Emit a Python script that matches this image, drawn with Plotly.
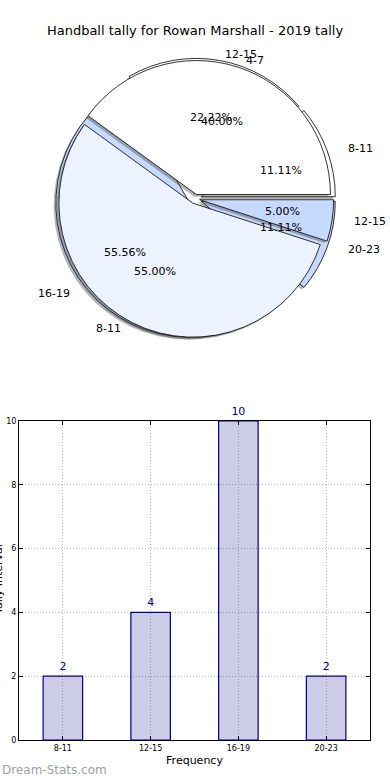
import math
import plotly.graph_objects as go

# ---------------- data ----------------
title_text = "Handball tally for Rowan Marshall - 2019 tally"

pie_a_labels = ["8-11", "12-15", "16-19", "20-23"]
pie_a_values = [2, 4, 10, 2]
pie_a_colors = ["#ffffff", "#ffffff", "#c6d9fe", "#c6d9fe"]

pie_b_labels = ["4-7", "8-11", "12-15"]
pie_b_values = [8, 11, 1]
pie_b_colors = ["#ffffff", "#ecf2fe", "#c6d9fe"]

bar_categories = ["8-11", "12-15", "16-19", "20-23"]
bar_values = [2, 4, 10, 2]
y_ticks = [0, 2, 4, 6, 8, 10]

x_title = "Frequency"
y_title = "Tally Interval"
watermark = "Dream-Stats.com"

# ---------------- geometry / style ----------------
W, H = 390, 780
CX, CY = 195, 199          # pie centre (px)
R = 134                    # pie radius (px)
RX, RY = 140, 128          # text placement radii (px)
PULL_A, PULL_B = 0.05, 0.035
FONT = "DejaVu Sans"


def pie_trace(values, labels, colors, pull, dx=0.0, dy=0.0, shadow=False):
    half = R * (1 + pull)
    dom_x = [(CX + dx - half) / W, (CX + dx + half) / W]
    dom_y = [1 - (CY + dy + half) / H, 1 - (CY + dy - half) / H]
    if shadow:
        marker = dict(colors=["rgba(70,70,70,0.4)"] * len(values), line=dict(width=0))
    else:
        marker = dict(colors=colors, line=dict(color="black", width=0.8))
    # first slice starts at 3 o'clock and slices run counter-clockwise (matplotlib style)
    rot = 90 - 360.0 * values[0] / sum(values)
    return go.Pie(
        values=values, labels=labels, sort=False, direction="counterclockwise",
        rotation=rot, pull=[pull] * len(values), textinfo="none", hoverinfo="label+percent",
        showlegend=False, marker=marker, domain=dict(x=dom_x, y=dom_y),
    )


fig = go.Figure()
fig.add_trace(pie_trace(pie_a_values, pie_a_labels, pie_a_colors, PULL_A, dx=-2.2, dy=2.2, shadow=True))
fig.add_trace(pie_trace(pie_a_values, pie_a_labels, pie_a_colors, PULL_A))
fig.add_trace(pie_trace(pie_b_values, pie_b_labels, pie_b_colors, PULL_B, dx=-2.2, dy=2.2, shadow=True))
fig.add_trace(pie_trace(pie_b_values, pie_b_labels, pie_b_colors, PULL_B))

annotations = []


def pie_texts(values, labels, pull):
    total = float(sum(values))
    cum = 0.0
    for v, lab in zip(values, labels):
        frac = v / total
        th = 2 * math.pi * (cum + frac / 2)
        cum += frac
        c, s = math.cos(th), math.sin(th)
        px = CX + (0.6 + pull) * RX * c
        py = CY - (0.6 + pull) * RY * s
        annotations.append(dict(x=px / W, y=1 - py / H, xref="paper", yref="paper",
                                text=f"{100 * frac:.2f}%", showarrow=False,
                                xanchor="center", yanchor="middle",
                                font=dict(family=FONT, size=11, color="black")))
        lx = CX + (1.1 + pull) * RX * c
        ly = CY - (1.1 + pull) * RY * s
        annotations.append(dict(x=lx / W, y=1 - ly / H, xref="paper", yref="paper",
                                text=lab, showarrow=False,
                                xanchor="left" if c > 0 else "right", yanchor="middle",
                                font=dict(family=FONT, size=11, color="black")))


pie_texts(pie_a_values, pie_a_labels, PULL_A)
pie_texts(pie_b_values, pie_b_labels, PULL_B)

# ---------------- bar chart ----------------
fig.add_trace(go.Bar(
    x=bar_categories, y=bar_values, width=0.45,
    marker=dict(color="rgba(0,0,128,0.2)", line=dict(color="navy", width=1.2)),
    text=[str(v) for v in bar_values], textposition="outside", cliponaxis=False,
    textfont=dict(family=FONT, size=11, color="navy"),
    showlegend=False, hoverinfo="x+y",
))

# y-axis title: sits mostly beyond the left page edge, as in the reference
annotations.append(dict(x=-2 / W, y=1 - 580 / H, xref="paper", yref="paper", text=y_title,
                        showarrow=False, textangle=-90, xanchor="center", yanchor="middle",
                        font=dict(family=FONT, size=11, color="black")))

annotations.append(dict(x=0, y=1 - 770 / H, xref="paper", yref="paper", text=watermark,
                        showarrow=False, xanchor="left", yanchor="middle",
                        font=dict(family=FONT, size=12, color="#a0a0a0")))

axis_common = dict(
    showline=True, linecolor="black", linewidth=1, mirror="allticks",
    ticks="inside", ticklen=4, tickcolor="black",
    showgrid=True, gridcolor="#b8b8b8", griddash="1px,2px", gridwidth=1,
    zeroline=False, tickfont=dict(family=FONT, size=8, color="black"),
    automargin=False,
)

fig.update_layout(
    width=W, height=H, template="none",
    paper_bgcolor="white", plot_bgcolor="white",
    margin=dict(l=0, r=0, t=0, b=0),
    title=dict(text=title_text, x=0.5, xanchor="center", y=1 - 30 / H, yanchor="middle",
               xref="paper", yref="paper", font=dict(family=FONT, size=13, color="black")),
    xaxis=dict(domain=[19 / W, 370 / W], range=[-0.5, 3.5], type="category",
               title=dict(text=x_title, font=dict(family=FONT, size=11, color="black"), standoff=4),
               **axis_common),
    yaxis=dict(domain=[1 - 740 / H, 1 - 421 / H], range=[0, 10], tickvals=y_ticks,
               **axis_common),
    annotations=annotations,
    bargap=0.55,
)

fig.write_html(
    "out.html",
    config={"displayModeBar": False},
    post_script="document.body.style.margin='0';document.body.style.padding='0';"
                "document.body.style.overflow='hidden';",
)
